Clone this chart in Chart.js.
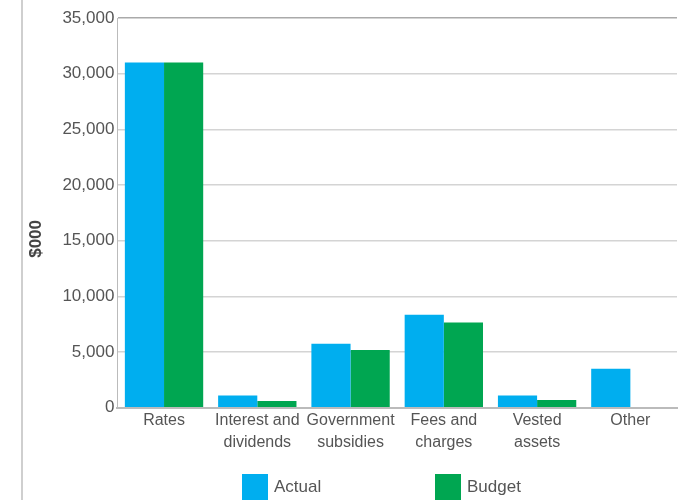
<!DOCTYPE html>
<html>
<head>
<meta charset="utf-8">
<script src="https://cdn.jsdelivr.net/npm/chart.js@4.4.1/dist/chart.umd.min.js"></script>
<style>
  html, body { margin: 0; padding: 0; background: #fff; overflow: hidden; }
  #wrap { position: relative; width: 682px; height: 500px; }
  #chart { position: absolute; left: 0; top: 0; }
  #edge { position: absolute; left: 21px; top: 0; width: 0; height: 500px; border-left: 2px solid #cfcfcf; }
  #legend { position: absolute; left: 242px; top: 474px; display: flex; margin: 0; padding: 0; list-style: none; }
  #legend li { display: flex; align-items: center; width: 193px; font: 17px "Liberation Sans", Arial, sans-serif; color: #555; }
  #legend span { display: inline-block; width: 26px; height: 26px; margin-right: 6px; }
</style>
</head>
<body>
<div id="wrap">
  <div id="edge"></div>
  <canvas id="chart" width="682" height="500"></canvas>
  <ul id="legend"></ul>
</div>
<script>
const categories = ['Rates', ['Interest and', 'dividends'], ['Government', 'subsidies'], ['Fees and', 'charges'], ['Vested', 'assets'], 'Other'];
const actual = [31000, 1100, 5750, 8350, 1100, 3500];
const budget = [31000, 600, 5200, 7650, 700, null];
const yTicks = [0, 5000, 10000, 15000, 20000, 25000, 30000, 35000];

const BLUE = '#00AEEF';
const GREEN = '#00A651';
const TEXT = '#555';

// build the legend outside the canvas so the items can sit far apart like the original
const htmlLegend = {
  id: 'htmlLegend',
  afterUpdate(chart) {
    const ul = document.getElementById('legend');
    ul.innerHTML = '';
    const items = chart.options.plugins.legend.labels.generateLabels(chart);
    items.forEach(item => {
      const li = document.createElement('li');
      const box = document.createElement('span');
      box.style.background = item.fillStyle;
      li.appendChild(box);
      li.appendChild(document.createTextNode(item.text));
      ul.appendChild(li);
    });
  }
};

new Chart(document.getElementById('chart'), {
  type: 'bar',
  data: {
    labels: categories,
    datasets: [
      { label: 'Actual', data: actual, backgroundColor: BLUE },
      { label: 'Budget', data: budget, backgroundColor: GREEN }
    ]
  },
  options: {
    responsive: false,
    animation: false,
    categoryPercentage: 0.84,
    barPercentage: 1.0,
    layout: { padding: { top: 18, right: 5, bottom: 45, left: 26 } },
    plugins: {
      legend: { display: false },
      tooltip: { enabled: false }
    },
    scales: {
      x: {
        grid: { display: false, drawTicks: false },
        border: { color: '#bbb', width: 2 },
        ticks: {
          color: TEXT,
          padding: 2,
          autoSkip: false,
          maxRotation: 0,
          font: { family: '"Liberation Sans", Arial, sans-serif', size: 16, lineHeight: 1.35 }
        }
      },
      y: {
        min: 0,
        max: 35000,
        afterBuildTicks: axis => { axis.ticks = yTicks.map(v => ({ value: v })); },
        border: { color: '#bbb', width: 1 },
        grid: {
          drawTicks: false,
          color: ctx => ctx.index === yTicks.length - 1 ? '#aaa' : '#d4d4d4',
          lineWidth: 1.5
        },
        ticks: {
          color: TEXT,
          padding: 3,
          font: { family: '"Liberation Sans", Arial, sans-serif', size: 17 },
          callback: v => v.toLocaleString('en-US')
        },
        title: {
          display: true,
          text: '$000' + '\u00a0'.repeat(11),
          color: '#444',
          padding: { top: 0, bottom: 13 },
          font: { family: '"Liberation Sans", Arial, sans-serif', size: 17, weight: 'bold' }
        }
      }
    }
  },
  plugins: [htmlLegend]
});
</script>
</body>
</html>
